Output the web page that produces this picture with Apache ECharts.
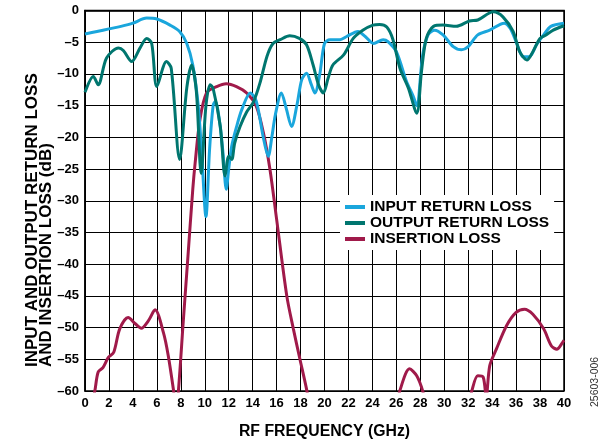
<!DOCTYPE html>
<html>
<head>
<meta charset="utf-8">
<script src="https://cdn.jsdelivr.net/npm/echarts@6/dist/echarts.min.js"></script>
<style>
html,body{margin:0;padding:0;background:#fff;}
#c{width:603px;height:445px;}
</style>
</head>
<body>
<div id="c"></div>
<script>
// ---- data ----
var xTicks = [0,2,4,6,8,10,12,14,16,18,20,22,24,26,28,30,32,34,36,38,40];
var yTicks = [0,-5,-10,-15,-20,-25,-30,-35,-40,-45,-50,-55,-60];

var inputFreq = [0,1,2,3,4,5.15,6.0,7.1,7.9,8.5,9.0,9.45,9.75,10.1,10.4,10.7,10.9,11.2,11.5,11.8,12.0,12.25,12.66,13.1,13.8,14.3,14.9,15.3,15.6,15.9,16.4,16.8,17.25,17.7,18.1,18.5,18.9,19.2,19.6,20.0,20.45,21.3,21.85,22.8,23.4,24.1,24.9,25.3,26.0,26.85,27.4,27.7,28.2,28.65,29.2,29.9,30.75,31.45,32.0,32.8,33.8,35.0,35.5,36.0,36.6,37.1,37.7,38.3,38.9,40];
var inputLoss = [-3.7,-3.3,-2.9,-2.5,-2.0,-1.2,-1.35,-2.3,-3.3,-5.2,-8.6,-14.9,-22.7,-32.5,-22,-15,-14.3,-17,-22,-28.2,-25,-21.4,-18.3,-15.6,-13.0,-14.3,-20.1,-23,-20,-16.4,-13,-15.4,-18.3,-14.9,-10.9,-9.9,-11.7,-13,-10.1,-5.2,-4.6,-4.6,-4.1,-3.3,-4.1,-5.2,-4.6,-4.9,-6.5,-11.2,-13.5,-15,-7.0,-3.85,-3.1,-3.85,-5.7,-6.2,-5.7,-3.85,-3.1,-2.0,-2.8,-4.9,-7.3,-7.3,-5.4,-3.85,-2.5,-2.0];

var outputFreq = [0,0.7,1.1,1.8,2.8,3.2,3.9,4.6,5.15,5.57,6.0,6.8,7.2,7.9,8.5,8.9,9.3,9.7,10.1,10.45,10.7,11.3,11.7,12.0,12.25,12.5,12.95,13.5,14.05,14.6,15.2,15.7,16.3,17.1,17.9,18.5,19.05,19.5,19.9,20.3,20.7,21.6,22.4,23.2,24.05,24.6,25.2,25.7,26.3,27.0,27.7,28.1,28.5,29.1,29.9,31.0,32.1,32.8,34.1,34.9,35.75,36.3,36.9,37.4,38.0,38.5,39.1,40];
var outputLoss = [-12.9,-10.4,-11.7,-7.5,-5.9,-6.3,-8.05,-5.9,-4.4,-5.2,-12.0,-8.05,-9.1,-23.5,-12.2,-8.6,-12.8,-25.7,-15,-11.7,-12.3,-18.3,-26.1,-23,-23.5,-20.9,-18.3,-16,-14.5,-11.5,-7.2,-5.2,-4.6,-4.0,-4.4,-5.4,-8.6,-11.7,-13,-10.7,-8.6,-7,-4.4,-3.1,-2.3,-2.2,-2.6,-4.5,-9.1,-12.2,-16.2,-9.6,-4.4,-2.5,-2.3,-2.5,-1.65,-1.5,-0.2,-1.0,-3.3,-6.5,-7.8,-6.5,-4.4,-3.85,-3.1,-2.4];

var insertionFreq = [0.6,0.83,1.1,1.5,1.95,2.4,2.9,3.6,4.2,4.7,5.3,5.85,6.55,6.95,7.4,7.6,7.8,8.2,8.6,9.0,9.2,9.6,10.15,11.0,11.8,12.65,13.5,14.3,14.9,15.45,16.0,16.85,17.4,17.95,18.5,18.7,22,26.1,26.3,27.1,27.7,28.2,28.4,30,32.1,32.3,32.8,33.25,33.5,33.8,34.35,35.2,36.0,36.7,37.4,38.3,38.95,39.4,39.9,40];
var insertionLoss = [-62,-59.9,-57,-56.3,-54.7,-53.9,-50.2,-48.4,-49.4,-50.1,-48.9,-47.2,-50.8,-54.4,-60,-63,-60,-49.2,-38.7,-28.2,-24,-17.2,-13.0,-12,-11.55,-12,-13,-15.1,-19.3,-25.1,-32.9,-45,-50.2,-55,-59.7,-62,null,-62,-59.9,-56.5,-57.6,-60,-62,null,-62,-60,-57.6,-57.8,-61,-56,-53.4,-49.7,-47.6,-47.1,-47.9,-50.2,-52.9,-53.4,-52.3,-52.0];

var seriesNames = ['INPUT RETURN LOSS','OUTPUT RETURN LOSS','INSERTION LOSS'];
var seriesColors = ['#1aa6dc','#00766f','#a01a4a'];
var xTitle = 'RF FREQUENCY (GHz)';
var yTitle = 'INPUT AND OUTPUT RETURN LOSS\nAND INSERTION LOSS (dB)';
var figId = '25603-006';

function pairs(xs, ys){
  return xs.map(function(x,i){ return [x, ys[i]===null ? '-' : ys[i]]; });
}
function minus(v){ return v < 0 ? '\u2013' + Math.abs(v) : String(v); }

var FONT = '"Liberation Sans", Arial, Helvetica, sans-serif';
var chart = echarts.init(document.getElementById('c'), null, {renderer:'canvas'});
var lineStyleBase = {width:3};

chart.setOption({
  animation:false,
  backgroundColor:'#fff',
  grid:{left:85, right:39, top:10.5, bottom:53, show:true, borderColor:'#000', borderWidth:1.5, backgroundColor:'transparent'},
  legend:{
    orient:'vertical', left:340, top:195,
    backgroundColor:'#fff', padding:[4,5,3,5], itemGap:0,
    itemWidth:20, itemHeight:4, icon:'rect',
    textStyle:{fontFamily:FONT, fontWeight:'bold', fontSize:15.5, lineHeight:15.3, color:'#000'},
    data:seriesNames
  },
  xAxis:{
    type:'value', min:0, max:40, interval:2,
    name:xTitle, nameLocation:'middle', nameGap:33,
    nameTextStyle:{fontFamily:FONT, fontWeight:'bold', fontSize:15.8, color:'#000'},
    axisLine:{show:true, lineStyle:{color:'#000', width:1.5}},
    axisTick:{show:false},
    axisLabel:{fontFamily:FONT, fontWeight:'bold', fontSize:13, color:'#000', margin:6,
      formatter:function(v){ return xTicks.indexOf(v) >= 0 ? String(v) : ''; }},
    splitLine:{show:true, lineStyle:{color:'#000', width:1}}
  },
  yAxis:{
    type:'value', min:-60, max:0, interval:5,
    axisLine:{show:true, lineStyle:{color:'#000', width:1.5}},
    axisTick:{show:false},
    axisLabel:{fontFamily:FONT, fontWeight:'bold', fontSize:13, color:'#000', margin:6,
      formatter:function(v){ return yTicks.indexOf(v) >= 0 ? minus(v) : ''; }},
    splitLine:{show:true, lineStyle:{color:'#000', width:1}}
  },
  graphic:[{
    type:'text', x:26, y:367, rotation:Math.PI/2,
    style:{text:yTitle, font:'bold 17px ' + FONT, fill:'#000', textAlign:'left', textVerticalAlign:'top', lineHeight:13.5}
  },{
    type:'text', x:590, y:407, rotation:Math.PI/2,
    style:{text:figId, font:'10.5px ' + FONT, fill:'#333', textAlign:'left', textVerticalAlign:'top'}
  }],
  series:[
    {name:seriesNames[2], type:'line', data:pairs(insertionFreq, insertionLoss), smooth:0.3, showSymbol:false, symbol:'none', connectNulls:false, clip:true, color:seriesColors[2], lineStyle:lineStyleBase, z:2},
    {name:seriesNames[0], type:'line', data:pairs(inputFreq, inputLoss), smooth:0.3, showSymbol:false, symbol:'none', clip:true, color:seriesColors[0], lineStyle:lineStyleBase, z:3},
    {name:seriesNames[1], type:'line', data:pairs(outputFreq, outputLoss), smooth:0.3, showSymbol:false, symbol:'none', clip:true, color:seriesColors[1], lineStyle:lineStyleBase, z:4}
  ]
});
</script>
</body>
</html>
